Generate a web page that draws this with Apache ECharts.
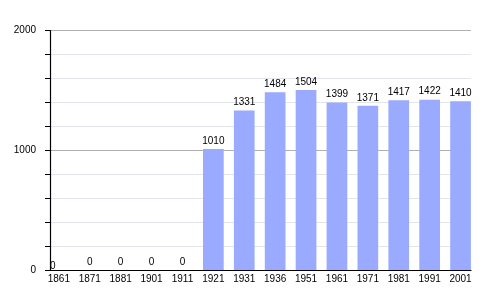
<!DOCTYPE html>
<html>
<head>
<meta charset="utf-8">
<script src="https://cdn.jsdelivr.net/npm/echarts@6/dist/echarts.min.js"></script>
<style>html,body{margin:0;padding:0;background:#fff}#c{width:500px;height:300px}</style>
</head>
<body>
<div id="c"></div>
<script>
const years = ['1861','1871','1881','1901','1911','1921','1931','1936','1951','1961','1971','1981','1991','2001'];
const population = [0,0,0,0,0,1010,1331,1484,1504,1399,1371,1417,1422,1410];
const yMin = 0, yMax = 2000, yStep = 200;

const chart = echarts.init(document.getElementById('c'), null, {renderer:'canvas'});
const font = 'Liberation Sans, Arial, sans-serif';
chart.setOption({
  animation: false,
  grid: [
    {left: 43.4, width: 432.6, top: 30.5, height: 239.5},
    {left: 50, width: 421, top: 30.5, height: 239.5}
  ],
  xAxis: [
    {gridIndex: 0, type: 'category', data: years, boundaryGap: true,
     axisLine: {show: false}, axisTick: {show: false},
     axisLabel: {color: '#000', fontSize: 10, fontFamily: font, margin: 4, interval: 0}},
    {gridIndex: 1, type: 'category', data: years,
     axisLine: {show: true, lineStyle: {color: '#000', width: 1.2}}, axisTick: {show: false},
     axisLabel: {show: false}}
  ],
  yAxis: [
    {gridIndex: 0, type: 'value', min: yMin, max: yMax, show: false, splitLine: {show: false}},
    {gridIndex: 1, type: 'value', min: yMin, max: yMax, interval: yStep,
     axisLine: {show: true, lineStyle: {color: '#000', width: 1.2}},
     axisTick: {show: true, length: 5, lineStyle: {color: '#000'}},
     axisLabel: {color: '#000', fontSize: 10, fontFamily: font, margin: 14,
       formatter: v => (v % 1000 === 0 ? String(v) : '')},
     splitLine: {show: true, lineStyle: {color: ['#b0b0b0','#e4e4ec','#e4e4ec','#e4e4ec','#e4e4ec'], width: 1}}}
  ],
  series: [{
    type: 'bar', xAxisIndex: 0, yAxisIndex: 0,
    data: population.map((v, i) => i === 0 ? {value: v, label: {offset: [-6, 4]}} : v),
    barWidth: 20.7,
    itemStyle: {color: '#99aaff'},
    label: {show: true, position: 'top', distance: 3, color: '#000', fontSize: 10, fontFamily: font}
  }]
});
</script>
</body>
</html>
